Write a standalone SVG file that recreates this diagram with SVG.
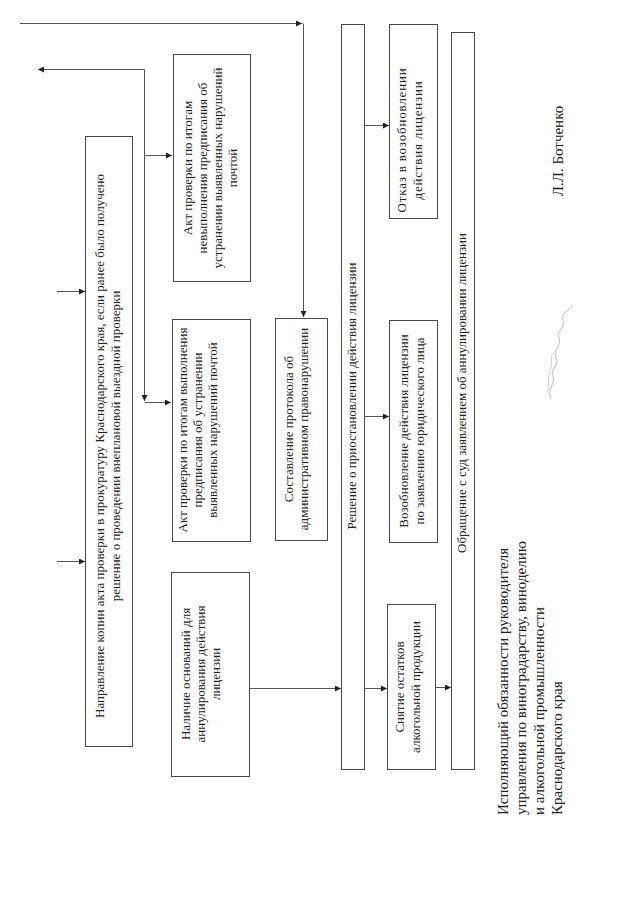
<svg xmlns="http://www.w3.org/2000/svg" width="640" height="905" viewBox="0 0 640 905">
<style>
.box{fill:none;stroke:#4a4a4a;stroke-width:1}
.ln{fill:none;stroke:#555;stroke-width:1}
.t{font-family:"Liberation Serif","Times New Roman",serif;font-size:13px;fill:#222;text-anchor:middle}
.sig{font-family:"Liberation Serif","Times New Roman",serif;font-size:15px;fill:#222}
</style>
<defs>
<marker id="ah" viewBox="0 0 10 10" refX="10" refY="5" markerWidth="7" markerHeight="6" markerUnits="userSpaceOnUse" orient="auto"><path d="M0,0 L10,5 L0,10 z" fill="#222"/></marker>
</defs>
<rect width="640" height="905" fill="#fff"/>

<g id="n-napravlenie">
<rect class="box" x="85.5" y="136.5" width="47" height="610"/>
<text class="t" transform="translate(104,446) rotate(-90)"><tspan x="0" y="0">Направление копии акта проверки в прокуратуру Краснодарского края,  если ранее было получено</tspan><tspan x="0" y="16">решение о проведении внеплановой выездной проверки</tspan></text>
</g>
<g id="n-akt-nevyp">
<rect class="box" x="173.5" y="54.5" width="77" height="227"/>
<text class="t" transform="translate(192,168) rotate(-90)"><tspan x="0" y="0">Акт проверки по итогам</tspan><tspan x="0" y="15">невыполнения предписания об</tspan><tspan x="0" y="30">устранении выявленных нарушений</tspan><tspan x="0" y="45">почтой</tspan></text>
</g>
<g id="n-akt-vyp">
<rect class="box" x="172.5" y="319.5" width="78" height="222"/>
<text class="t" transform="translate(187,430) rotate(-90)"><tspan x="0" y="0">Акт проверки по итогам выполнения</tspan><tspan x="0" y="15">предписания об устранении</tspan><tspan x="0" y="30">выявленных нарушений почтой</tspan></text>
</g>
<g id="n-nalichie">
<rect class="box" x="171.5" y="572.5" width="78" height="204"/>
<text class="t" transform="translate(190,674) rotate(-90)"><tspan x="0" y="0">Наличие оснований для</tspan><tspan x="0" y="15">аннулирования действия</tspan><tspan x="0" y="30">лицензии</tspan></text>
</g>
<g id="n-sostavlenie">
<rect class="box" x="275.5" y="318.5" width="52" height="222"/>
<text class="t" transform="translate(293,429) rotate(-90)"><tspan x="0" y="0">Составление протокола об</tspan><tspan x="0" y="15">административном правонарушении</tspan></text>
</g>
<g id="n-reshenie">
<rect class="box" x="341.5" y="24.5" width="23" height="745"/>
<text class="t" transform="translate(356,396) rotate(-90)">Решение о приостановлении действия лицензии</text>
</g>
<g id="n-otkaz">
<rect class="box" x="389.5" y="24.5" width="48" height="194"/>
<text class="t" letter-spacing="0.8" transform="translate(406,140) rotate(-90)"><tspan x="0" y="0">Отказ в возобновлении</tspan><tspan x="0" y="16">действия лицензии</tspan></text>
</g>
<g id="n-vozobnovlenie">
<rect class="box" x="389.5" y="320.5" width="48" height="222"/>
<text class="t" transform="translate(408,431) rotate(-90)"><tspan x="0" y="0">Возобновление действия лицензии</tspan><tspan x="0" y="16">по заявлению юридического лица</tspan></text>
</g>
<g id="n-snyatie">
<rect class="box" x="387.5" y="604.5" width="48" height="165"/>
<text class="t" transform="translate(404,687) rotate(-90)"><tspan x="0" y="0">Снятие остатков</tspan><tspan x="0" y="16">алкогольной продукции</tspan></text>
</g>
<g id="n-obraschenie">
<rect class="box" x="451.5" y="32.5" width="23" height="737"/>
<text class="t" transform="translate(466,393) rotate(-90)">Обращение с суд заявлением об аннулировании лицензии</text>
</g>

<g id="connectors">
<path class="ln" d="M20,23.5 H302" marker-end="url(#ah)"/>
<path class="ln" d="M303.5,23.5 V317" marker-end="url(#ah)"/>
<path class="ln" d="M144.5,69.5 H38" marker-end="url(#ah)"/>
<path class="ln" d="M144.5,69.5 V401" marker-end="url(#ah)"/>
<path class="ln" d="M144.5,155.5 H172" marker-end="url(#ah)"/>
<path class="ln" d="M144.5,402.5 H171" marker-end="url(#ah)"/>
<path class="ln" d="M57,291.5 H85" marker-end="url(#ah)"/>
<path class="ln" d="M57,561.5 H85" marker-end="url(#ah)"/>
<path class="ln" d="M249.5,688.5 H341" marker-end="url(#ah)"/>
<path class="ln" d="M364.5,125.5 H389" marker-end="url(#ah)"/>
<path class="ln" d="M364.5,416.5 H389" marker-end="url(#ah)"/>
<path class="ln" d="M364.5,688.5 H387" marker-end="url(#ah)"/>
<path class="ln" d="M435.5,687.5 H451" marker-end="url(#ah)"/>
</g>

<g id="signature">
<text class="sig" transform="translate(508,815) rotate(-90)"><tspan x="0" y="0">Исполняющий обязанности  руководителя</tspan><tspan x="0" y="18">управления  по  виноградарству, виноделию</tspan><tspan x="0" y="36">и  алкогольной  промышленности</tspan><tspan x="0" y="54">Краснодарского края</tspan></text>
<text class="sig" text-anchor="middle" transform="translate(563,151) rotate(-90)">Л.Л. Ботченко</text>
<path d="M551,398 C546,390 556,384 553,376 C550,368 560,366 556,358 C552,350 562,346 559,338 C556,330 566,328 563,320 C560,312 570,312 572,305" fill="none" stroke="#aaa" stroke-width="0.8"/>
<path d="M547,392 C552,386 545,378 551,372 M549,370 C555,365 548,357 554,352" fill="none" stroke="#bbb" stroke-width="0.7"/>
</g>
</svg>
